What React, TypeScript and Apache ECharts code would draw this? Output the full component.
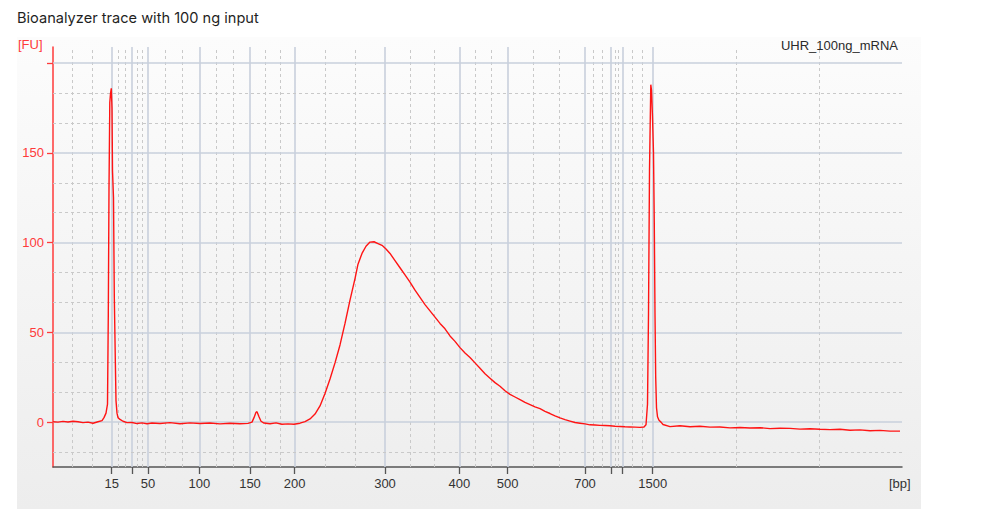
import React, { useEffect, useRef } from "react";
import * as echarts from "echarts";

const TITLE = "Bioanalyzer trace with 100 ng input";
const SAMPLE_NAME = "UHR_100ng_mRNA";
const Y_UNIT = "[FU]";
const X_UNIT = "[bp]";

// DNA 1000 ladder: size (bp) and migration time (s)
const ladderBp = [15, 25, 50, 100, 150, 200, 300, 400, 500, 700, 850, 1000, 1500];
const ladderTime = [25.87, 27.9, 29.5, 34.63, 39.7, 44.17, 53.2, 60.63, 65.47, 73.2, 75.8, 76.93, 79.97];
const labeledBp = [15, 50, 100, 150, 200, 300, 400, 500, 700, 1500];

const yMajorTicks = [0, 50, 100, 150, 200];
const yLabeled = [0, 50, 100, 150];

// Trace: migration time (s) and fluorescence (FU)
const traceTime = [
  20.0, 20.5, 21.0, 21.5, 22.0, 22.5, 23.0, 23.5, 24.0, 24.5, 24.9, 25.1, 25.3, 25.45, 25.53, 25.6, 25.68, 25.75, 25.83, 25.9, 25.95, 26.05, 26.13, 26.23, 26.3, 26.4, 26.5, 26.7, 27.0, 27.4,
  27.9, 28.4, 28.9, 29.4, 29.9, 30.7, 31.7, 32.7, 33.7, 34.7, 35.7, 36.7, 37.7, 38.7, 39.5, 39.9, 40.1, 40.3, 40.4, 40.6, 40.8, 41.1, 41.7, 42.3, 42.9, 43.5, 44.1, 44.7, 45.2, 45.7,
  46.2, 46.7, 47.2, 47.7, 48.2, 48.7, 49.2, 49.7, 50.2, 50.5, 50.9, 51.3, 51.7, 52.1, 52.5, 52.9, 53.3, 53.7, 54.2, 54.7, 55.2, 55.7, 56.2, 56.7, 57.2, 57.7, 58.2, 58.7, 59.2, 59.7,
  60.2, 60.7, 61.2, 61.7, 62.2, 62.7, 63.2, 63.7, 64.2, 64.7, 65.2, 65.7, 66.2, 66.7, 67.2, 67.7, 68.2, 68.7, 69.2, 69.7, 70.2, 70.7, 71.2, 71.7, 72.2, 72.7, 73.2, 73.7, 74.2, 74.7,
  75.2, 75.7, 76.2, 76.7, 77.2, 77.7, 78.2, 78.7, 79.1, 79.3, 79.45, 79.55, 79.65, 79.73, 79.78, 79.85, 79.95, 80.05, 80.13, 80.2, 80.27, 80.35, 80.45, 80.6, 80.8, 81.0, 81.7, 82.7, 83.7, 84.7,
  85.7, 86.7, 87.7, 88.7, 89.7, 90.7, 91.7, 92.7, 93.7, 94.7, 95.7, 96.7, 97.7, 98.7, 99.7, 100.7, 101.7, 102.7, 103.7, 104.7,
];
const traceFU = [
  0.2, 0.0, 0.4, 0.1, 0.5, 0.2, -0.3, 0.0, -0.6, 0.2, 0.8, 2.5, 5, 10, 60, 130, 178, 183, 186, 175, 140, 125, 70, 35, 12, 5, 2.5, 1.5, 0.5, -0.3,
  -0.2, -0.8, -0.4, -0.9, -0.5, -0.8, -0.3, -0.9, -0.4, -0.8, -0.5, -1.0, -0.6, -0.9, -0.7, 0.0, 2.5, 5.5, 5.8, 3.0, 0.5, -0.5, -0.9, -0.4, -1.2, -1.0, -1.2, -0.6, 0.3, 1.8,
  4.5, 9, 16, 24, 33, 43, 55, 68, 80, 88, 94, 98, 100.3, 100.5, 99.5, 98.5, 96.5, 94, 90, 86, 82, 78, 73.5, 69.5, 65.5, 62, 58.5, 55, 52, 48,
  45, 41.5, 38.5, 36, 33, 30, 27, 24.5, 22, 20, 17.5, 15.5, 14, 12.5, 11, 9.8, 8.5, 7.5, 6, 4.8, 3.5, 2.4, 1.4, 0.6, -0.2, -0.6, -1.0, -1.5, -1.6, -1.8,
  -1.9, -2.0, -2.3, -2.4, -2.6, -2.7, -2.8, -2.9, -2.7, -1.5, 10, 60, 140, 170, 188, 185, 170, 150, 110, 60, 25, 8, 3, 1, 0, -1.3, -2.5, -2.0, -2.6, -2.3,
  -2.8, -2.7, -3.2, -3.0, -3.3, -3.1, -3.6, -3.4, -3.5, -3.9, -3.7, -4.0, -4.2, -4.0, -4.5, -4.3, -4.8, -4.6, -5.0, -5.0,
];

const X_MIN = 20;
const X_MAX = 104.9;
const Y_MIN = -25;
const Y_MAX = 209;

const FONT = "'Liberation Sans', Arial, sans-serif";

export default function App() {
  const ref = useRef<HTMLDivElement>(null);

  useEffect(() => {
    if (!ref.current) return;
    const chart = echarts.init(ref.current, undefined, { renderer: "svg" });

    const majorStyle = { color: "#c9d0dc", width: 1.6, type: "solid" as const };
    const minorStyle = { color: "#c9c9c9", width: 1, type: [3, 3] as any };

    // vertical gridlines: majors at ladder, minors at thirds between boundaries
    const bounds = [X_MIN, ...ladderTime, X_MAX];
    const gridData: any[] = [];
    for (let i = 0; i < bounds.length - 1; i++) {
      const a = bounds[i];
      const b = bounds[i + 1];
      gridData.push({ xAxis: a + (b - a) / 3, lineStyle: minorStyle });
      gridData.push({ xAxis: a + (2 * (b - a)) / 3, lineStyle: minorStyle });
    }
    ladderTime.forEach((t) => gridData.push({ xAxis: t, lineStyle: majorStyle }));
    // horizontal gridlines
    for (let k = -1; k <= 12; k++) {
      const v = (k * 50) / 3;
      if (v <= Y_MIN || v >= Y_MAX) continue;
      if (k % 3 === 0) gridData.push({ yAxis: v, lineStyle: majorStyle });
      else gridData.push({ yAxis: v, lineStyle: minorStyle });
    }

    const labeledTimes = labeledBp.map((bp) => ladderTime[ladderBp.indexOf(bp)]);

    chart.setOption({
      animation: false,
      grid: { left: 53, right: 84, top: 47, bottom: 61, containLabel: false },
      graphic: [
        {
          type: "rect",
          z: -10,
          silent: true,
          shape: { x: 17, y: 37, width: 904, height: 472 },
          style: {
            fill: new echarts.graphic.LinearGradient(0, 0, 0, 1, [
              { offset: 0, color: "#fcfcfc" },
              { offset: 1, color: "#ededed" },
            ]),
          },
        },
        {
          type: "text",
          left: 17,
          top: 10,
          style: { text: TITLE, fill: "#1f1f1f", font: "14.6px Inter, 'Noto Sans', sans-serif" },
        },
        {
          type: "text",
          left: 18,
          top: 38,
          style: { text: Y_UNIT, fill: "#ff3a3a", font: `13px ${FONT}` },
        },
        {
          type: "text",
          right: 88,
          top: 39,
          style: { text: SAMPLE_NAME, fill: "#2a2a2a", font: `13px ${FONT}` },
        },
        {
          type: "text",
          left: 889,
          top: 477,
          style: { text: X_UNIT, fill: "#333", font: `13px ${FONT}` },
        },
      ],
      xAxis: {
        type: "value",
        min: X_MIN,
        max: X_MAX,
        splitLine: { show: false },
        axisLine: { show: true, onZero: false, lineStyle: { color: "#555", width: 1.5 } },
        axisTick: { show: true, length: 7, customValues: ladderTime, lineStyle: { color: "#555", width: 1.3 } },
        axisLabel: {
          customValues: labeledTimes,
          color: "#333",
          fontSize: 13,
          fontFamily: FONT,
          margin: 10,
          formatter: (v: number) => {
            const i = ladderTime.findIndex((t) => Math.abs(t - v) < 1e-6);
            return i >= 0 ? String(ladderBp[i]) : "";
          },
        },
      },
      yAxis: {
        type: "value",
        min: Y_MIN,
        max: Y_MAX,
        splitLine: { show: false },
        axisLine: { show: true, onZero: false, lineStyle: { color: "#ff3a3a", width: 1.5 } },
        axisTick: { show: true, length: 6, customValues: yMajorTicks, lineStyle: { color: "#ff3a3a", width: 1.3 } },
        axisLabel: {
          customValues: yLabeled,
          color: "#ff3a3a",
          fontSize: 13,
          fontFamily: FONT,
          margin: 9,
        },
      },
      series: [
        {
          type: "line",
          data: [],
          z: 1,
          silent: true,
          markLine: {
            silent: true,
            symbol: ["none", "none"],
            label: { show: false },
            emphasis: { disabled: true },
            data: gridData,
          },
        },
        {
          type: "line",
          z: 5,
          showSymbol: false,
          symbol: "none",
          lineStyle: { color: "#ff1414", width: 1.4 },
          data: traceTime.map((t, i) => [t, traceFU[i]]),
        },
      ],
    });

    return () => chart.dispose();
  }, []);

  return (
    <div
      ref={ref}
      style={{ position: "absolute", left: 0, top: 0, width: 986, height: 528, background: "#fff" }}
    />
  );
}
